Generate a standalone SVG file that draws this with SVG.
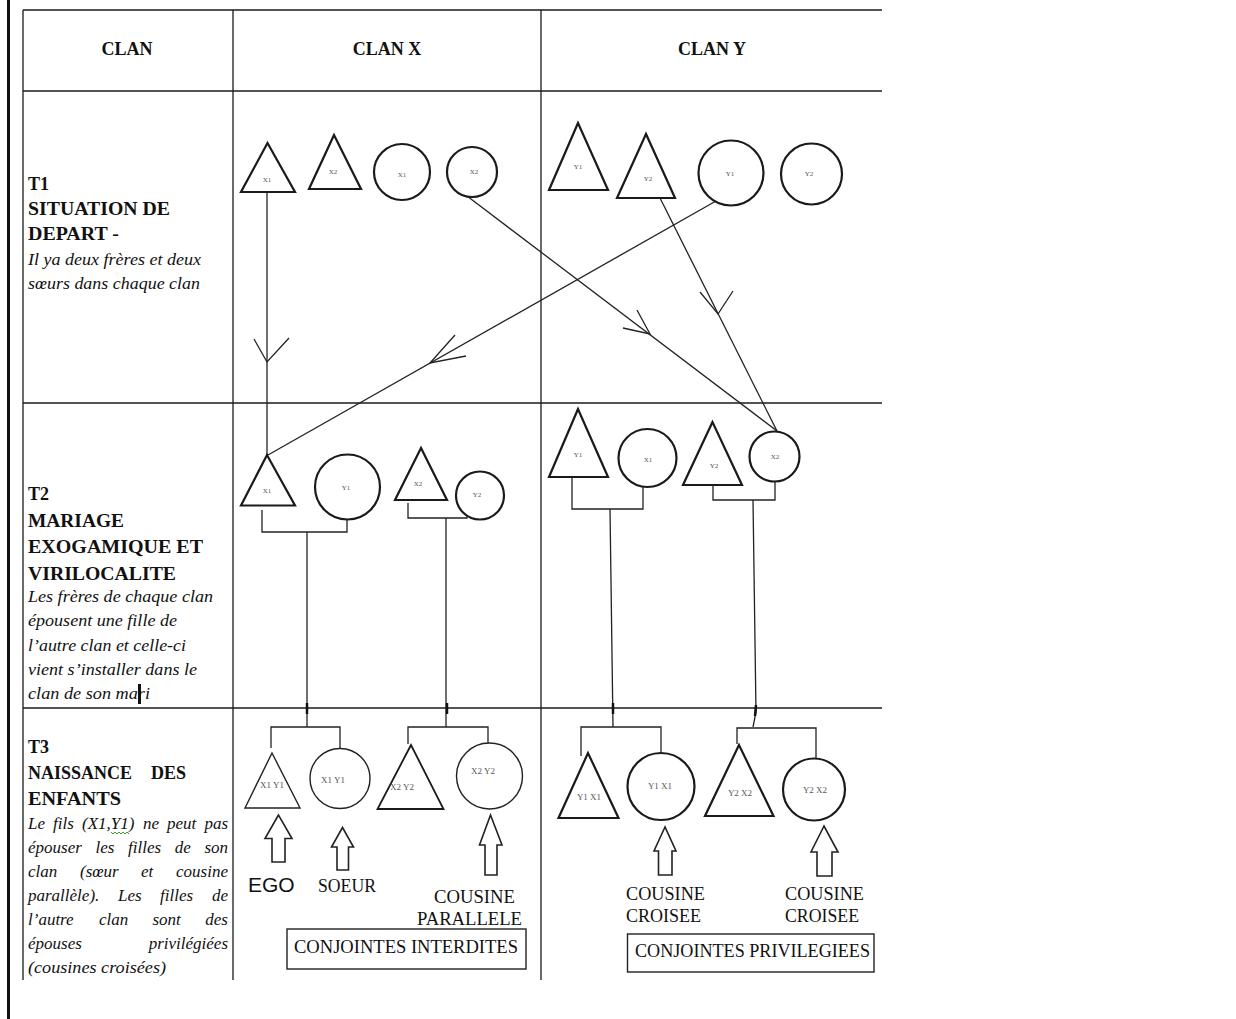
<svg xmlns="http://www.w3.org/2000/svg" width="1236" height="1019" viewBox="0 0 1236 1019">
<style>
.grid{stroke:#1a1a1a;stroke-width:1.3;fill:none}
.sh{stroke:#1a1a1a;stroke-width:2.2;fill:#fff}
.thin{stroke:#222;stroke-width:1.4;fill:#fff}
.ln{stroke:#222;stroke-width:1.3;fill:none}
.hd{font-family:"Liberation Serif",serif;font-weight:bold;font-size:18px;fill:#111}
.it{font-family:"Liberation Serif",serif;font-style:italic;font-size:17px;fill:#111}
.end{text-anchor:end}
.lb{font-family:"Liberation Serif",serif;font-size:7px;fill:#555;text-anchor:middle}
.lb2{font-family:"Liberation Serif",serif;font-size:9px;fill:#555;text-anchor:middle}
.cap{font-family:"Liberation Serif",serif;font-size:18px;fill:#111}
.ego{font-family:"Liberation Sans",sans-serif;font-size:21px;fill:#111}
.arr{stroke:#222;stroke-width:1.6;fill:#fff}
</style>
<rect x="0" y="0" width="1236" height="1019" fill="#fff"/>
<rect x="7" y="0" width="3" height="1019" fill="#111"/>
<g id="table">
<line class="grid" x1="23" y1="10" x2="882" y2="10"/>
<line class="grid" x1="23" y1="91" x2="882" y2="91"/>
<line class="grid" x1="23" y1="403" x2="882" y2="403"/>
<line class="grid" x1="23" y1="708" x2="882" y2="708"/>
<line class="grid" x1="23" y1="10" x2="23" y2="980"/>
<line class="grid" x1="233" y1="10" x2="233" y2="980"/>
<line class="grid" x1="541" y1="10" x2="541" y2="980"/>
</g>
<g id="headers">
<text class="hd" x="127" y="55" text-anchor="middle">CLAN</text>
<text class="hd" x="387" y="55" text-anchor="middle">CLAN X</text>
<text class="hd" x="712" y="55" text-anchor="middle">CLAN Y</text>
</g>
<g id="t1-label">
<text class="hd" x="28" y="190">T1</text>
<text class="hd" x="28" y="215" textLength="142" lengthAdjust="spacingAndGlyphs">SITUATION DE</text>
<text class="hd" x="28" y="240" textLength="91" lengthAdjust="spacingAndGlyphs">DEPART -</text>
<text class="it" x="28" y="265" textLength="173" lengthAdjust="spacingAndGlyphs">Il ya deux frères et deux</text>
<text class="it" x="28" y="289" textLength="172" lengthAdjust="spacingAndGlyphs">sœurs dans chaque clan</text>
</g>
<g id="t2-label">
<text class="hd" x="28" y="500">T2</text>
<text class="hd" x="28" y="527" textLength="96" lengthAdjust="spacingAndGlyphs">MARIAGE</text>
<text class="hd" x="28" y="553" textLength="175" lengthAdjust="spacingAndGlyphs">EXOGAMIQUE ET</text>
<text class="hd" x="28" y="580" textLength="148" lengthAdjust="spacingAndGlyphs">VIRILOCALITE</text>
<text class="it" x="28" y="602" textLength="185" lengthAdjust="spacingAndGlyphs">Les frères de chaque clan</text>
<text class="it" x="28" y="626" textLength="149" lengthAdjust="spacingAndGlyphs">épousent une fille de</text>
<text class="it" x="28" y="651" textLength="158" lengthAdjust="spacingAndGlyphs">l’autre clan et celle-ci</text>
<text class="it" x="28" y="675" textLength="169" lengthAdjust="spacingAndGlyphs">vient s’installer dans le</text>
<text class="it" x="28" y="699" textLength="122" lengthAdjust="spacingAndGlyphs">clan de son mari</text>
<rect x="138" y="684" width="3" height="20" fill="#111"/>
</g>
<g id="t3-label">
<text class="hd" x="28" y="753">T3</text>
<text class="hd" x="28" y="779">NAISSANCE</text>
<text class="hd end" x="186" y="779">DES</text>
<text class="hd" x="28" y="805" textLength="93" lengthAdjust="spacingAndGlyphs">ENFANTS</text>
<text class="it" y="829"><tspan x="28">Le</tspan><tspan x="53">fils</tspan><tspan x="82">(X1,Y1)</tspan><tspan x="143">ne</tspan><tspan x="167">peut</tspan></text>
<text class="it end" x="228" y="829">pas</text>
<polyline points="111,832 113,834 115,832 117,834 119,832 121,834 123,832 125,834 127,832 129,834" fill="none" stroke="#3a9a3a" stroke-width="1"/>
<text class="it" y="853"><tspan x="28">épouser</tspan><tspan x="95.5">les</tspan><tspan x="128">filles</tspan><tspan x="174.8">de</tspan></text>
<text class="it end" x="228" y="853">son</text>
<text class="it" y="877"><tspan x="28">clan</tspan><tspan x="80">(sœur</tspan><tspan x="141">et</tspan></text>
<text class="it end" x="228" y="877">cousine</text>
<text class="it" y="901"><tspan x="28">parallèle).</tspan><tspan x="118">Les</tspan><tspan x="160">filles</tspan></text>
<text class="it end" x="228" y="901">de</text>
<text class="it" y="925"><tspan x="28">l’autre</tspan><tspan x="99">clan</tspan><tspan x="152.5">sont</tspan></text>
<text class="it end" x="228" y="925">des</text>
<text class="it" x="28" y="949">épouses</text>
<text class="it end" x="228" y="949">privilégiées</text>
<text class="it" x="28" y="973" textLength="138" lengthAdjust="spacingAndGlyphs">(cousines croisées)</text>
</g>
<g id="connectors">
<line class="ln" x1="267" y1="193" x2="267" y2="455"/>
<polyline class="ln" points="254,339 267,362 289,338"/>
<line class="ln" x1="716" y1="201" x2="268" y2="455"/>
<polyline class="ln" points="466,356 430,363 455,335"/>
<line class="ln" x1="467" y1="196" x2="777" y2="431"/>
<polyline class="ln" points="623,328 650,334 637,310"/>
<line class="ln" x1="660" y1="198" x2="777" y2="431"/>
<polyline class="ln" points="700,292 718,314 733,291"/>
<polyline class="ln" points="262,510 262,532 347,532 347,519"/>
<line class="ln" x1="307" y1="532" x2="307" y2="727"/>
<polyline class="ln" points="408,503 408,518 467,518 467,510"/>
<line class="ln" x1="446" y1="518" x2="446" y2="727"/>
<polyline class="ln" points="572,477 572,509 643,509 643,487"/>
<line class="ln" x1="610" y1="509" x2="613" y2="727"/>
<polyline class="ln" points="713,485 713,500 775,500 775,477"/>
<polyline class="ln" points="753,500 756,712 753,727"/>
<polyline class="ln" points="271,748 271,727 340,727 340,748"/>
<polyline class="ln" points="408,744 408,727 488,727 488,743"/>
<polyline class="ln" points="581,756 581,727 661,727 661,752"/>
<polyline class="ln" points="737,744 737,728 816,728 816,758"/>
<line x1="307" y1="703" x2="307" y2="714" stroke="#111" stroke-width="2.5"/>
<line x1="447" y1="703" x2="447" y2="714" stroke="#111" stroke-width="2.5"/>
<line x1="613" y1="703" x2="613" y2="714" stroke="#111" stroke-width="2.5"/>
<line x1="756" y1="705" x2="755" y2="716" stroke="#111" stroke-width="2.5"/>
</g>
<g id="t1-x1-man"><polygon class="sh" points="267.5,143 241,192 295,192"/><text class="lb" x="267" y="182">X1</text></g>
<g id="t1-x2-man"><polygon class="sh" points="334,135 309,189 361,189"/><text class="lb" x="333" y="174">X2</text></g>
<g id="t1-x1-woman"><circle class="sh" cx="402" cy="172" r="28"/><text class="lb" x="402" y="177">X1</text></g>
<g id="t1-x2-woman"><circle class="sh" cx="472" cy="172" r="25"/><text class="lb" x="474" y="174">X2</text></g>
<g id="t1-y1-man"><polygon class="sh" points="578,123 549,190 608,190"/><text class="lb" x="578" y="169">Y1</text></g>
<g id="t1-y2-man"><polygon class="sh" points="646,134 617,198 675,198"/><text class="lb" x="648" y="181">Y2</text></g>
<g id="t1-y1-woman"><circle class="sh" cx="731" cy="173" r="32.5"/><text class="lb" x="730" y="176">Y1</text></g>
<g id="t1-y2-woman"><circle class="sh" cx="811.5" cy="174" r="30.5"/><text class="lb" x="809" y="176">Y2</text></g>
<g id="t2-x1-man"><polygon class="sh" points="267,455 241,505.5 295,505.5"/><text class="lb" x="267" y="493">X1</text></g>
<g id="t2-y1-woman"><circle class="sh" cx="347.5" cy="487" r="32.5"/><text class="lb" x="346" y="490">Y1</text></g>
<g id="t2-x2-man"><polygon class="sh" points="421,448 395,500 447,500"/><text class="lb" x="418" y="486">X2</text></g>
<g id="t2-y2-woman"><circle class="sh" cx="480" cy="495.5" r="24"/><text class="lb" x="477" y="497">Y2</text></g>
<g id="t2-y1-man"><polygon class="sh" points="578,409 549,477 608,477"/><text class="lb" x="578" y="457">Y1</text></g>
<g id="t2-x1-woman"><circle class="sh" cx="647.5" cy="458" r="29"/><text class="lb" x="648" y="462">X1</text></g>
<g id="t2-y2-man"><polygon class="sh" points="712.5,422 683,485 742,485"/><text class="lb" x="714" y="468">Y2</text></g>
<g id="t2-x2-woman"><circle class="sh" cx="774.5" cy="456.5" r="25"/><text class="lb" x="775" y="459">X2</text></g>
<g id="t3-x1y1-son"><polygon class="thin" points="272,753 245,808 300,808"/><text class="lb2" x="272" y="788">X1 Y1</text></g>
<g id="t3-x1y1-daughter"><circle class="thin" cx="340" cy="778.5" r="30"/><text class="lb2" x="333" y="783">X1 Y1</text></g>
<g id="t3-x2y2-son"><polygon class="sh" style="stroke-width:1.8" points="411,745 377.5,809 443.5,809"/><text class="lb2" x="402" y="790">X2 Y2</text></g>
<g id="t3-x2y2-daughter"><circle class="thin" cx="489.5" cy="776" r="33"/><text class="lb2" x="483" y="774">X2 Y2</text></g>
<g id="t3-y1x1-son"><polygon class="sh" points="588,753 558.5,818 618.5,818"/><text class="lb2" x="589" y="800">Y1 X1</text></g>
<g id="t3-y1x1-daughter"><circle class="sh" cx="661" cy="786.5" r="33.5"/><text class="lb2" x="660" y="789">Y1  X1</text></g>
<g id="t3-y2x2-son"><polygon class="sh" points="739,745 705,816 773.5,816"/><text class="lb2" x="740" y="796">Y2  X2</text></g>
<g id="t3-y2x2-daughter"><circle class="sh" cx="814" cy="789.5" r="31"/><text class="lb2" x="815" y="793">Y2  X2</text></g>
<g id="arrow-ego"><polygon class="arr" points="278.5,815 265,838.5 272,838.5 272,862 285,862 285,838.5 292,838.5"/><text class="ego" x="248" y="892">EGO</text></g>
<g id="arrow-soeur"><polygon class="arr" points="342.5,827.5 331.5,847 337,847 337,870 348.5,870 348.5,847 353.5,847"/><text class="cap" x="318" y="892" textLength="58" lengthAdjust="spacingAndGlyphs">SOEUR</text></g>
<g id="arrow-parallele"><polygon class="arr" points="490.5,815 479.5,845 485,845 485,875 497,875 497,845 502,845"/><text class="cap" x="434" y="903" textLength="81" lengthAdjust="spacingAndGlyphs">COUSINE</text><text class="cap" x="417" y="925" textLength="105" lengthAdjust="spacingAndGlyphs">PARALLELE</text></g>
<g id="box-interdites"><rect x="287" y="929" width="239" height="40" fill="none" stroke="#222" stroke-width="1.4"/><text class="cap" x="294" y="953" textLength="224" lengthAdjust="spacingAndGlyphs">CONJOINTES INTERDITES</text></g>
<g id="arrow-croisee1"><polygon class="arr" points="665,827 654,851 658.5,851 658.5,875 672,875 672,851 676,851"/><text class="cap" x="626" y="900" textLength="79" lengthAdjust="spacingAndGlyphs">COUSINE</text><text class="cap" x="626" y="922" textLength="75" lengthAdjust="spacingAndGlyphs">CROISEE</text></g>
<g id="arrow-croisee2"><polygon class="arr" points="824,826 811,852 817,852 817,876 832,876 832,852 838,852"/><text class="cap" x="785" y="900" textLength="79" lengthAdjust="spacingAndGlyphs">COUSINE</text><text class="cap" x="785" y="922" textLength="74" lengthAdjust="spacingAndGlyphs">CROISEE</text></g>
<g id="box-privilegiees"><rect x="627.5" y="934" width="246.5" height="38" fill="none" stroke="#222" stroke-width="1.4"/><text class="cap" x="635" y="957" textLength="235" lengthAdjust="spacingAndGlyphs">CONJOINTES PRIVILEGIEES</text></g>
</svg>
